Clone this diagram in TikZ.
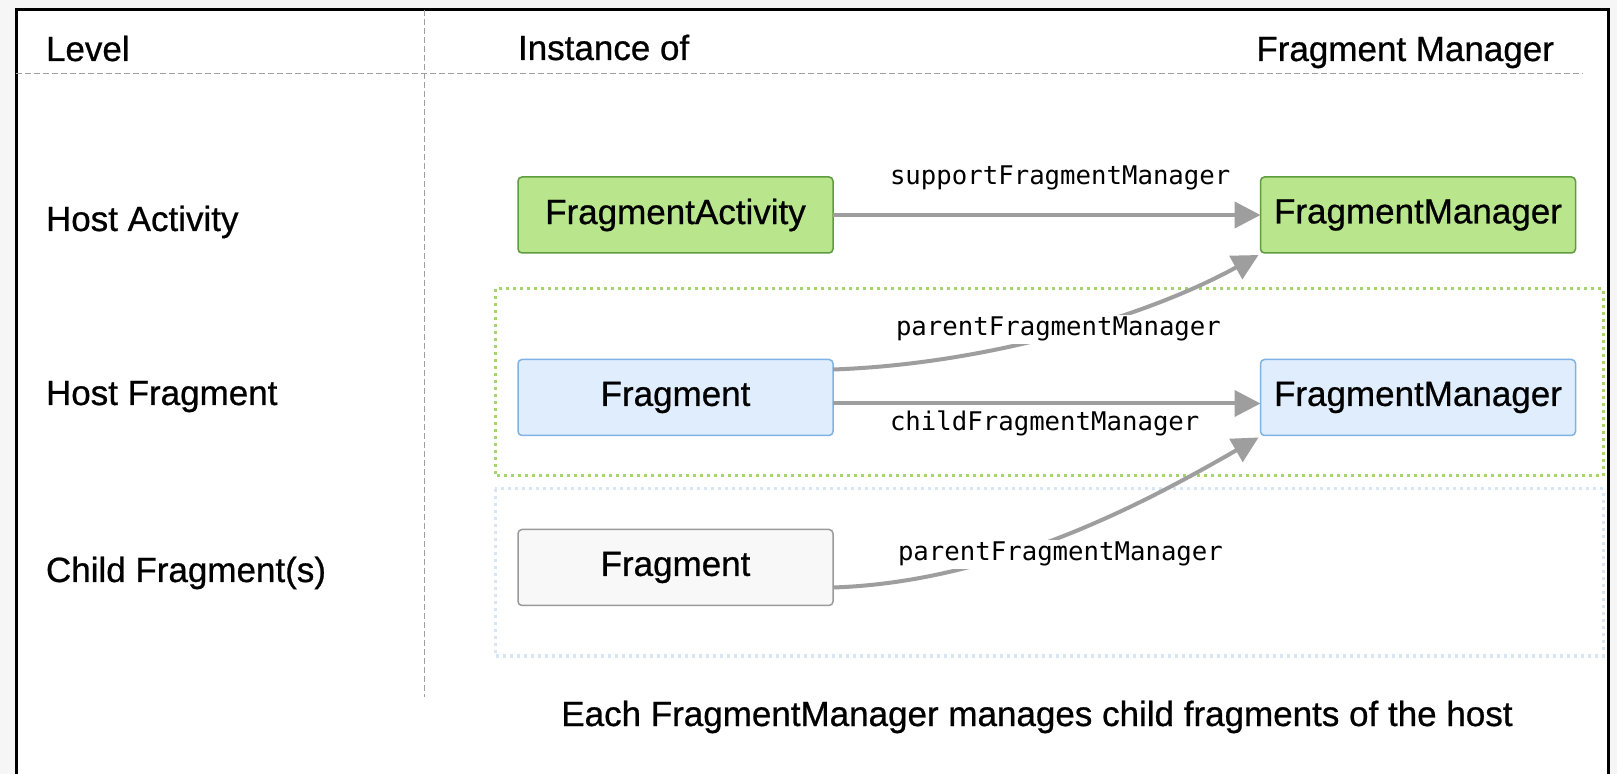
\documentclass[tikz,border=0pt]{standalone}
\usepackage{fontspec}
\setmainfont{Liberation Sans}[FakeBold=0.7]
\setmonofont{DejaVu Sans Mono}
\usetikzlibrary{arrows.meta}

\definecolor{pagebg}{HTML}{F6F6F6}
\definecolor{gridgray}{HTML}{A0A0A0}
\definecolor{arrowgray}{HTML}{9E9E9E}
\definecolor{actfill}{HTML}{B9E68C}
\definecolor{actdraw}{HTML}{5E9C3F}
\definecolor{fragfill}{HTML}{DFEDFC}
\definecolor{fragdraw}{HTML}{7EB3E3}
\definecolor{childfill}{HTML}{F8F8F8}
\definecolor{childdraw}{HTML}{9A9A9A}
\definecolor{hostdots}{HTML}{A5D46E}
\definecolor{childdots}{HTML}{D8E6F4}

\begin{document}
\begin{tikzpicture}[x=0.5pt,y=-0.5pt,
  every node/.style={inner sep=0pt, outer sep=0pt},
  sans/.style={font=\fontsize{17.5pt}{21pt}\selectfont},
  code/.style={font=\ttfamily\fontsize{12.85pt}{15pt}\selectfont},
  classbox/.style={draw, rounded corners=2pt, line width=0.75pt,
    minimum width=157.5pt, minimum height=38pt, sans},
  actbox/.style={classbox, fill=actfill, draw=actdraw},
  fragbox/.style={classbox, fill=fragfill, draw=fragdraw},
  childbox/.style={classbox, fill=childfill, draw=childdraw},
  grid/.style={draw=gridgray, line width=0.5pt, dash pattern=on 3pt off 1.5pt},
  levelzone/.style={line width=1.5pt, dash pattern=on 1.5pt off 2pt},
  link/.style={draw=arrowgray, line width=2pt,
    -{Triangle[length=13pt,width=13pt]}},
  coverlabel/.style={code, fill=white, inner xsep=2pt, inner ysep=1pt}]

% page and frame
\fill[pagebg] (0,0) rectangle (1617,774);
\useasboundingbox (0,0) rectangle (1617,774);
\fill[white] (16,10) rectangle (1608,774);
\draw[line width=1.5pt] (16,774) -- (16,10) -- (1608,10) -- (1608,774);

% table rules
\draw[grid] (16,74) -- (1583,74);
\draw[grid] (424,10) -- (424,697);

% column headings
\node[sans, anchor=base west] (hlevel) at (46,61) {Level};
\node[sans, anchor=base west] (hinst) at (518,60) {Instance of};
\node[sans, anchor=base east] (hfm) at (1554,61) {Fragment Manager};

% level labels
\node[sans, anchor=base west] (lact) at (46,231) {Host Activity};
\node[sans, anchor=base west] (lhost) at (46,405) {Host Fragment};
\node[sans, anchor=base west] (lchild) at (46,582) {Child Fragment(s)};

% level zones
\draw[levelzone, draw=hostdots] (495,289) rectangle (1603,476);
\draw[levelzone, draw=childdots] (495,489) rectangle (1603,656);

% classes
\node[actbox] (fa) at (675.5,215) {FragmentActivity};
\node[actbox] (fmg) at (1418,215) {FragmentManager};
\node[fragbox] (fb) at (675.5,397.5) {Fragment};
\node[fragbox] (fmb) at (1418,397.5) {FragmentManager};
\node[childbox] (fc) at (675.5,567.5) {Fragment};

% references between them
\draw[link] (fa.east) -- (fmg.west);
\draw[link] ([yshift=14pt]fb.east) .. controls (990,364) and (1150,315) .. ([xshift=-1pt,yshift=-1pt]fmg.south west);
\draw[link] ([yshift=-3pt]fb.east) -- ([yshift=-3pt]fmb.west);
\draw[link] ([yshift=-10pt]fc.east) .. controls (1000,582) and (1150,500) .. ([xshift=-1pt,yshift=-1pt]fmb.south west);

% reference names
\node[code, anchor=base west] (lsup) at (890,185) {supportFragmentManager};
\node[coverlabel, anchor=base west] (lpar1) at (892,336) {parentFragmentManager};
\node[code, anchor=base west] (lchd) at (890,431) {childFragmentManager};
\node[coverlabel, anchor=base west] (lpar2) at (894,561) {parentFragmentManager};

% caption
\node[sans, anchor=base] (cap) at (1037,726) {Each FragmentManager manages child fragments of the host};
\end{tikzpicture}
\end{document}
